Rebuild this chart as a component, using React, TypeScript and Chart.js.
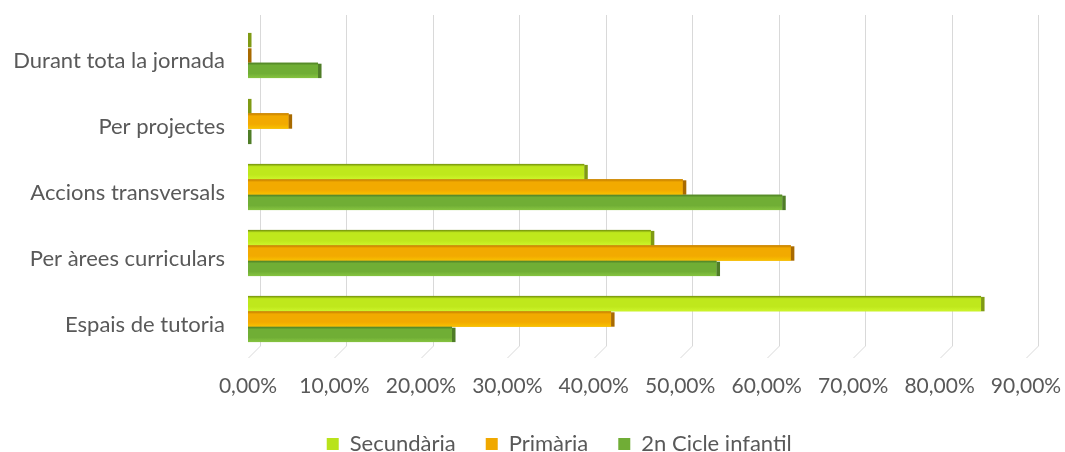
import React, { useEffect, useRef } from "react";
import { Chart, registerables } from "chart.js";

Chart.register(...registerables);

const categories = [
  "Durant tota la jornada",
  "Per projectes",
  "Accions transversals",
  "Per àrees curriculars",
  "Espais de tutoria",
];
const secundaria = [0, 0, 38.9, 46.6, 84.8];
const primaria = [0, 4.7, 50.3, 62.8, 42.0];
const infantil = [8.1, 0, 61.8, 54.2, 23.6];
const seriesNames = ["Secundària", "Primària", "2n Cicle infantil"];
const xTicksMax = 90;
const xTicksStep = 10;

const FONT = "Lato, 'Open Sans', sans-serif";
const TEXT = "#595959";

const palette = [
  { base: "#b9e31b", top: "#6f8d0c", mid: "#bfe81c", bot: "#cdf52a", cap: "#7f9a14" },
  { base: "#f0a800", top: "#c07a00", mid: "#f2aa00", bot: "#f8c200", cap: "#a86a00" },
  { base: "#70ad36", top: "#4d7f24", mid: "#70ae35", bot: "#86c440", cap: "#4f7d27" },
];

const gridPlugin = {
  id: "grid3d",
  beforeDatasetsDraw(chart: any) {
    const xs = chart.scales.x;
    const area = chart.chartArea;
    const c = chart.ctx;
    c.save();
    c.strokeStyle = "#d9d9d9";
    c.lineWidth = 1;
    xs.ticks.forEach((t: any) => {
      const px = Math.round(xs.getPixelForValue(t.value)) + 0.5;
      c.beginPath();
      c.moveTo(px + 12, 15);
      c.lineTo(px + 12, area.bottom - 6);
      c.lineTo(px, area.bottom + 6);
      c.stroke();
    });
    c.restore();
  },
};

const barPlugin = {
  id: "bar3d",
  afterDatasetsDraw(chart: any) {
    const c = chart.ctx;
    chart.data.datasets.forEach((ds: any, i: number) => {
      const meta = chart.getDatasetMeta(i);
      const p = palette[i];
      meta.data.forEach((el: any) => {
        const { x, y, base, height } = el.getProps(["x", "y", "base", "height"], true);
        const top = y - height / 2;
        const bottom = y + height / 2;
        const left = Math.min(base, x);
        const right = Math.max(base, x);
        c.save();
        if (right - left > 0.5) {
          const g = c.createLinearGradient(0, top, 0, bottom);
          g.addColorStop(0, p.top);
          g.addColorStop(0.18, p.mid);
          g.addColorStop(0.7, p.mid);
          g.addColorStop(1, p.bot);
          c.fillStyle = g;
          c.fillRect(left, top, right - left, height);
        }
        c.fillStyle = p.cap;
        c.fillRect(right, top + 1, 3.5, height - 1);
        c.restore();
      });
    });
  },
};

export default function App() {
  const ref = useRef<HTMLCanvasElement | null>(null);
  useEffect(() => {
    if (!ref.current) return;
    const data = [secundaria, primaria, infantil];
    const defaultLabels = (Chart as any).defaults.plugins.legend.labels.generateLabels;
    const chart = new Chart(ref.current, {
      type: "bar",
      data: {
        labels: categories,
        datasets: data.map((d, i) => ({
          label: seriesNames[i],
          data: d,
          backgroundColor: palette[i].base,
          borderWidth: 0,
          categoryPercentage: 0.7,
          barPercentage: 1,
        })),
      },
      options: {
        indexAxis: "y",
        animation: false,
        responsive: false,
        maintainAspectRatio: false,
        layout: { padding: { left: 0, right: 39, top: 22, bottom: 0 } },
        scales: {
          x: {
            min: 0,
            max: xTicksMax,
            grid: { display: false, drawTicks: false },
            border: { display: false },
            ticks: {
              stepSize: xTicksStep,
              padding: 22,
              color: TEXT,
              font: { family: FONT, size: 21 },
              maxRotation: 0,
              callback: (v: any) => Number(v).toFixed(2).replace(".", ",") + "%",
            },
            afterFit: (s: any) => {
              s.height = 51;
              s.paddingLeft = 0;
              s.paddingRight = 0;
            },
          },
          y: {
            grid: { display: false, drawTicks: false },
            border: { display: false },
            ticks: {
              padding: 23,
              labelOffset: 6,
              color: TEXT,
              font: { family: FONT, size: 22 },
            },
            afterFit: (s: any) => {
              s.width = 248;
              s.paddingTop = 0;
              s.paddingBottom = 0;
            },
          },
        },
        plugins: {
          legend: {
            position: "bottom",
            labels: {
              boxWidth: 12,
              boxHeight: 12,
              padding: 30,
              color: TEXT,
              font: { family: FONT, size: 22 },
              generateLabels: (ch: any) => {
                const items = defaultLabels(ch);
                const spacer = {
                  text: "       ",
                  fillStyle: "rgba(0,0,0,0)",
                  strokeStyle: "rgba(0,0,0,0)",
                  fontColor: "rgba(0,0,0,0)",
                  lineWidth: 0,
                  hidden: false,
                  datasetIndex: -1,
                };
                return [spacer, ...items];
              },
            },
          },
          tooltip: { enabled: false },
        },
      },
      plugins: [gridPlugin, barPlugin],
    });
    return () => chart.destroy();
  }, []);
  return (
    <div style={{ position: "fixed", left: 0, top: 0, width: 1065, height: 452, overflow: "hidden", background: "#fff" }}>
      <canvas ref={ref} width={1065} height={465} style={{ display: "block" }} />
    </div>
  );
}
